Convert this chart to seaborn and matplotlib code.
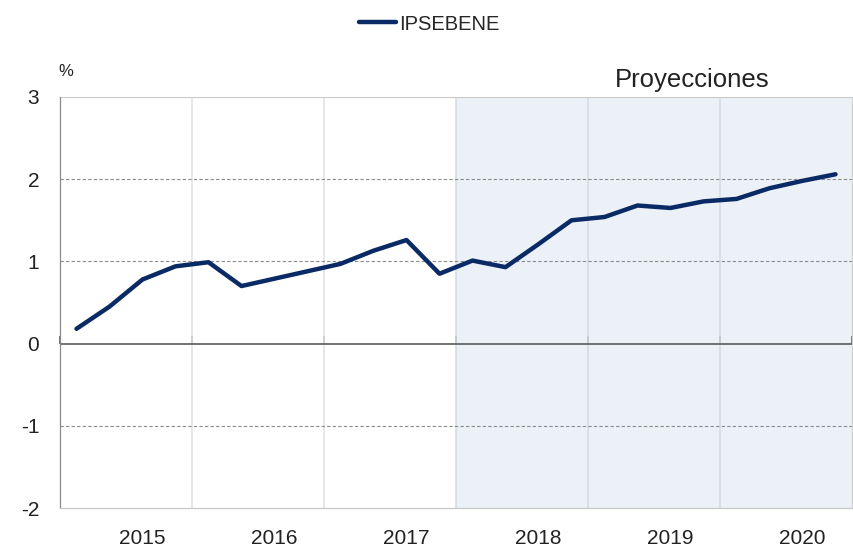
import matplotlib
matplotlib.use("Agg")
import matplotlib.pyplot as plt
import seaborn as sns
import pandas as pd
import numpy as np

# ---- data ----
quarters = [f"{y}Q{q}" for y in range(2015, 2021) for q in range(1, 5)]
ipsebene = [0.18, 0.45, 0.78, 0.94, 0.99, 0.70, 0.79, 0.88,
            0.97, 1.13, 1.26, 0.85, 1.01, 0.93, 1.21, 1.50,
            1.54, 1.68, 1.65, 1.73, 1.76, 1.89, 1.98, 2.06]
year_labels = ["2015", "2016", "2017", "2018", "2019", "2020"]
y_ticks = [-2, -1, 0, 1, 2, 3]
series_name = "IPSEBENE"
shade_label = "Proyecciones"

df = pd.DataFrame({"idx": np.arange(len(quarters)), "quarter": quarters,
                   "value": ipsebene, "serie": series_name})

sns.set_theme(style="white")
plt.rcParams["font.family"] = ["Liberation Sans", "DejaVu Sans"]

fig = plt.figure(figsize=(8.54, 5.49), dpi=100)
ax = fig.add_axes([60/854, 1-508/549, 792/854, 411/549])

n = len(quarters)
ax.set_xlim(-0.5, n - 0.5)
ax.set_ylim(-2, 3)

# projection shading (from 2018)
ax.axvspan(11.5, n - 0.5, color="#ECF1F8", zorder=0, lw=0)

# vertical year grid
for b in [3.5, 7.5, 11.5, 15.5, 19.5]:
    col = "#E3E3E3" if b < 11.5 else "#D5DCE6"
    ax.axvline(b, color=col, lw=1.2, zorder=1)

# horizontal grid
for yv in [-1, 1, 2]:
    ax.axhline(yv, color="#8A8A8A", lw=0.8, ls=(0, (3, 2)), zorder=1)
ax.axhline(3, color="#C8C8C8", lw=0.8, zorder=1)
ax.axhline(0, color="#5A5A5A", lw=1.2, zorder=2)

sns.lineplot(data=df, x="idx", y="value", hue="serie", palette=["#0A2A66"],
             lw=3.2, ax=ax, zorder=3, legend=True)

# axes styling
for s in ["top", "right"]:
    ax.spines[s].set_visible(False)
ax.spines["bottom"].set_color("#C8C8C8")
ax.spines["bottom"].set_linewidth(0.9)
ax.spines["left"].set_color("#8A8A8A")
ax.spines["left"].set_linewidth(0.9)
ax.spines["left"].set_linestyle((0, (2, 1)))
ax.plot([1, 1], [0, 1], transform=ax.transAxes, color="#D0D0D0", lw=0.9, clip_on=False)

ax.set_yticks(y_ticks)
ax.set_yticklabels([str(v) for v in y_ticks], fontsize=15, color="#222222")
ax.tick_params(axis="y", direction="in", length=5, width=0.8, color="#666666", pad=15)

ax.set_xticks([2 + 4*i for i in range(len(year_labels))])
ax.set_xticklabels(year_labels, fontsize=15, color="#222222")
ax.tick_params(axis="x", length=0, pad=15)
ax.set_xlabel("")
ax.set_ylabel("")

# ticks on zero line at year boundaries
sec = ax.secondary_xaxis(0.4)
sec.set_xticks([-0.5, 3.5, 7.5, 11.5, 15.5, 19.5, 23.5])
sec.set_xticklabels([])
sec.tick_params(direction="in", length=6, width=1.2, color="#5A5A5A")
sec.spines["bottom"].set_visible(False)

ax.text(-2/792, 1 + 25/411, "%", transform=ax.transAxes, fontsize=12,
        color="#222222", ha="left", va="center")
ax.text(555/792, 1 + 17/411, shade_label, transform=ax.transAxes, fontsize=18.5,
        color="#222222", ha="left", va="center")

leg = ax.legend(loc="center", bbox_to_anchor=(429/854, 1-24/549),
                bbox_transform=fig.transFigure, frameon=False, fontsize=14.5,
                handlelength=1.85, handletextpad=0.15)
for l in leg.get_lines():
    l.set_linewidth(3.2)

fig.savefig("out.png", dpi=100)
